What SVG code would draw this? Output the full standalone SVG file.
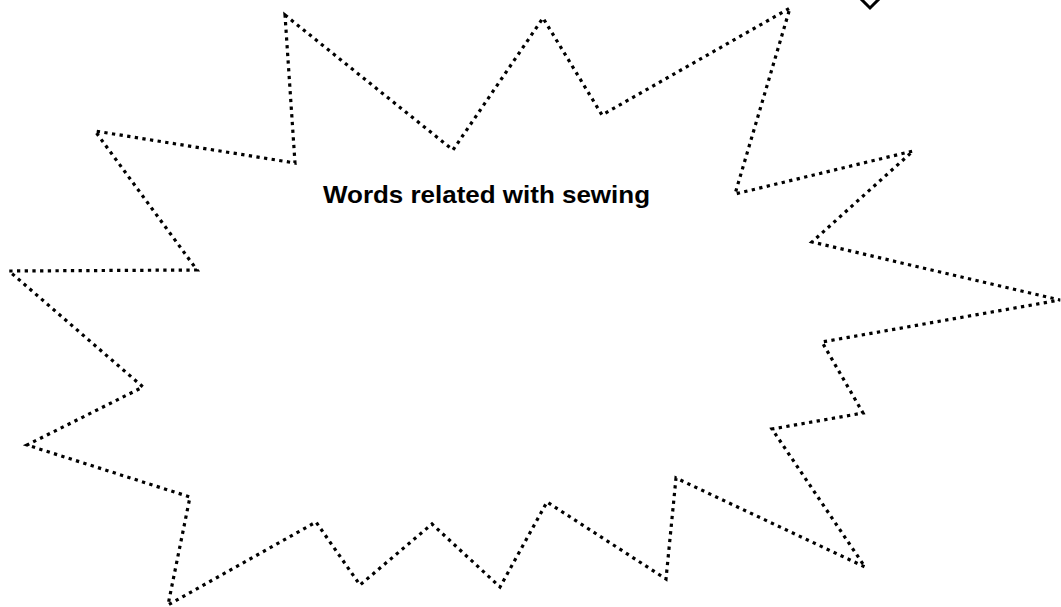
<svg xmlns="http://www.w3.org/2000/svg" width="1061" height="607" viewBox="0 0 1061 607">
<style>
.burst{fill:#fff;stroke:#000;stroke-width:3.2;stroke-dasharray:3.3 4.4;stroke-linejoin:miter}
.label{font-family:"Liberation Sans",Arial,sans-serif;font-weight:bold;font-size:24px;fill:#000}
.mark{fill:none;stroke:#000;stroke-width:3}
</style>
<rect width="1061" height="607" fill="#fff"/>
<g id="burst">
<polygon class="burst" points="285,15 453,150 543,18 602,115 790,8 735,194 913,151 812,242 1060,300 822,342 863,413 772,429 865,567 676,478 666,579 547,502 500,587 432,524 360,585 316,522 168,605 190,497 27,445 143,387 9,271 197,270 95,131 295,163"/>
<text class="label" x="323" y="203" textLength="327" lengthAdjust="spacingAndGlyphs">Words related with sewing</text>
</g>
<g id="mark">
<polygon class="mark" points="870,-10 879,-1 870,8 861,-1"/>
</g>
</svg>
